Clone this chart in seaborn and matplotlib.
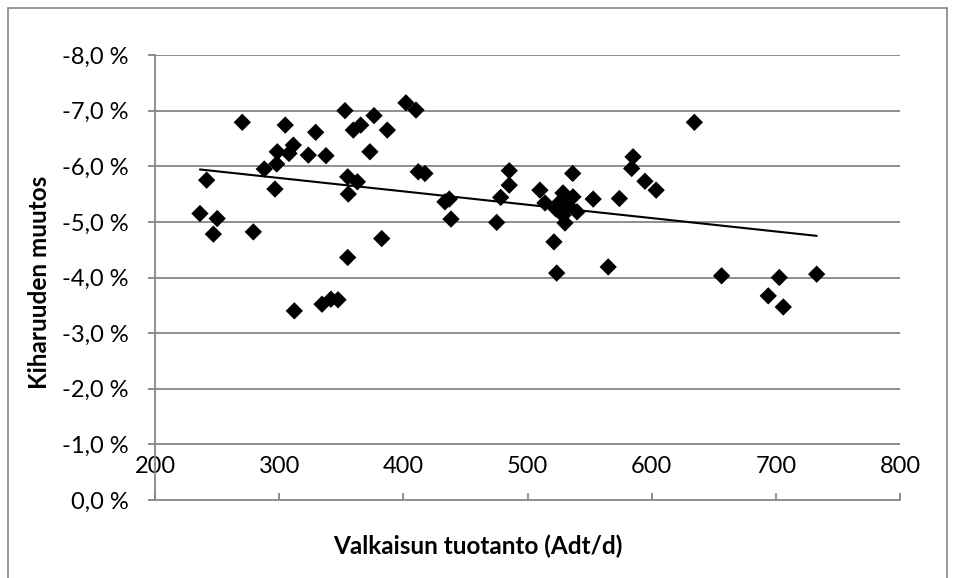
import matplotlib
matplotlib.use("Agg")
import matplotlib.pyplot as plt
import seaborn as sns
import pandas as pd
from matplotlib.ticker import FuncFormatter
from matplotlib.patches import Rectangle

# --- data ---
production = [241.6, 236.2, 250.1, 247.0, 270.3, 279.2, 288.0, 298.0, 296.6, 298.5,
              307.9, 311.4, 304.9, 323.5, 329.4, 337.7, 353.0, 359.7, 365.7, 376.4,
              387.1, 373.1, 402.1, 410.2, 355.2, 363.0, 355.7, 412.0, 417.4, 433.5,
              437.0, 438.4, 382.6, 355.2, 312.2, 334.5, 341.7, 347.4, 475.2, 478.4,
              485.3, 485.3, 510.0, 514.1, 536.4, 552.9, 574.0, 521.3, 523.5, 565.0,
              528.6, 536.6, 526.2, 532.6, 539.9, 528.6, 530.2, 523.0, 585.0, 583.9,
              594.6, 603.6, 634.4, 656.3, 702.8, 732.9, 693.9, 706.0]
curl_change = [-5.75, -5.15, -5.06, -4.78, -6.79, -4.82, -5.95, -6.04, -5.59, -6.26,
               -6.23, -6.38, -6.74, -6.20, -6.61, -6.19, -7.00, -6.65, -6.74, -6.91,
               -6.65, -6.26, -7.14, -7.01, -5.81, -5.72, -5.50, -5.90, -5.87, -5.36,
               -5.41, -5.05, -4.70, -4.36, -3.40, -3.52, -3.61, -3.60, -4.99, -5.44,
               -5.66, -5.92, -5.57, -5.34, -5.87, -5.41, -5.42, -4.64, -4.08, -4.19,
               -5.52, -5.45, -5.36, -5.30, -5.18, -5.12, -4.98, -5.23, -6.17, -5.96,
               -5.73, -5.57, -6.79, -4.03, -4.00, -4.06, -3.67, -3.47]
x_ticks = [200, 300, 400, 500, 600, 700, 800]
y_ticks = [0, -1, -2, -3, -4, -5, -6, -7, -8]
x_title = "Valkaisun tuotanto (Adt/d)"
y_title = "Kiharuuden muutos"

df = pd.DataFrame({"x": production, "y": curl_change})

sns.set_theme(style="white")
plt.rcParams["font.family"] = ["Lato", "DejaVu Sans"]

W, H = 955, 578
fig = plt.figure(figsize=(W / 100, H / 100), dpi=100)
ax = fig.add_axes([155 / W, (H - 500) / H, (900 - 155) / W, (500 - 55) / H])

grid_c = "#868686"
tick_fs = 17
title_fs = 17.5

sns.regplot(data=df, x="x", y="y", scatter=False, ci=None, truncate=True,
            line_kws=dict(color="black", lw=1.5), ax=ax)
sns.scatterplot(data=df, x="x", y="y", marker="D", s=78, color="black",
                edgecolor="none", ax=ax, zorder=3)

ax.set_xlim(200, 800)
ax.set_ylim(0, -8)
ax.set_xticks(x_ticks)
ax.set_yticks(y_ticks)
ax.yaxis.set_major_formatter(FuncFormatter(
    lambda v, p: ("%.1f %%" % (0.0 if abs(v) < 1e-9 else v)).replace(".", ",")))

for yv in y_ticks[1:]:
    ax.axhline(yv, color=grid_c, lw=1.3, zorder=0)

for s in ["top", "right"]:
    ax.spines[s].set_visible(False)
for s in ["left", "bottom"]:
    ax.spines[s].set_color(grid_c)
    ax.spines[s].set_linewidth(1.3)

ax.tick_params(axis="y", direction="out", length=5, width=1.3, color=grid_c,
               labelsize=tick_fs, labelcolor="black", pad=14, left=True)
ax.tick_params(axis="x", direction="in", length=5, width=1.3, color=grid_c,
               labelsize=tick_fs, labelcolor="black", pad=-32, bottom=True)

ax.set_xlabel(x_title, fontsize=title_fs, fontweight="bold", color="black")
ax.set_ylabel(y_title, fontsize=title_fs, fontweight="bold", color="black")
ax.xaxis.set_label_coords((478 - 155) / 745, -0.078)
ax.yaxis.set_label_coords(-0.14, 0.49)

# outer chart border
fig.patches.append(Rectangle((8 / W, -0.1), (947 - 8) / W, (H - 8) / H + 0.1,
                             transform=fig.transFigure, fill=False,
                             edgecolor=grid_c, lw=1.2))

fig.savefig("out.png", dpi=100)
